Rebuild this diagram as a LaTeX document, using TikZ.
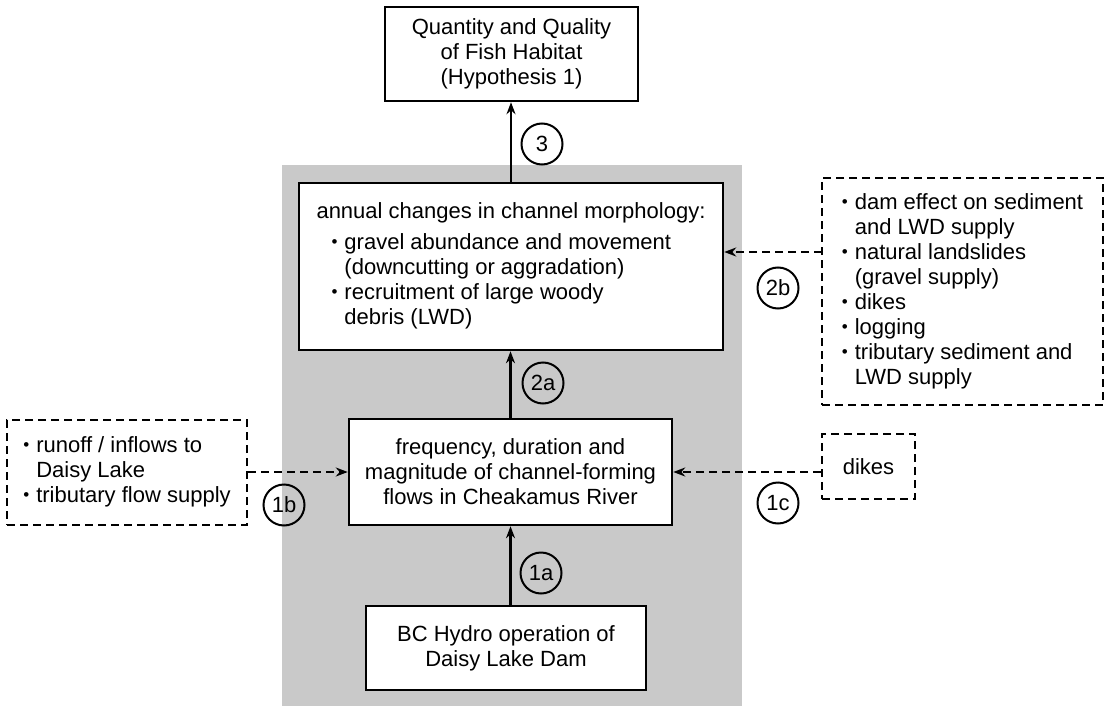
\documentclass[tikz,border=0pt]{standalone}
\usepackage{fontspec}
\setmainfont{Liberation Sans}
\usetikzlibrary{arrows.meta, positioning}
\newcommand{\blt}{\raisebox{0.15ex}{\fontsize{17}{17}\selectfont\textbullet}}

\begin{document}
\begin{tikzpicture}[x=1pt, y=-1pt, >={Stealth[length=12pt,width=9pt]},
  every node/.style={font=\fontsize{22}{25}\selectfont},
  box/.style={draw, line width=2.5pt, fill=white, align=center, inner sep=0pt},
  dbox/.style={draw, line width=2pt, dash pattern=on 8pt off 5pt, fill=white, inner sep=0pt},
  num/.style={draw, circle, line width=2pt, minimum size=41pt, inner sep=0pt},
  link/.style={->, line width=2.2pt},
  dlink/.style={->, line width=2pt, dash pattern=on 8pt off 5pt}]
  \useasboundingbox (0,0) rectangle (1105,706);
  % shaded zone
  \fill[black!21] (282,165) rectangle (742,706);
  % main chain
  \node[box, minimum width=253pt, minimum height=94pt] (habitat) at (511.5,54)
    {Quantity and Quality\\ of Fish Habitat\\ (Hypothesis 1)};
  \node[box, minimum width=424pt, minimum height=167pt] (morph) at (511,266.5)
    {\begin{tabular}{@{}l@{}}
      annual changes in channel morphology:\\[6pt]
      \hspace*{15pt}\begin{tabular}{@{}l@{\hspace{7pt}}l@{}}
        \blt & gravel abundance and movement\\
             & (downcutting or aggradation)\\
        \blt & recruitment of large woody\\
             & debris (LWD)
      \end{tabular}
    \end{tabular}};
  \node[box, minimum width=323pt, minimum height=106pt] (flows) at (510.5,472)
    {frequency, duration and\\ magnitude of channel-forming\\ flows in Cheakamus River};
  \node[box, minimum width=280pt, minimum height=84pt] (dam) at (506,648)
    {BC Hydro operation of\\ Daisy Lake Dam};
  % outside factors
  \node[dbox, minimum width=240pt, minimum height=105pt] (inflow) at (127,472.5)
    {\begin{tabular}{@{}l@{\hspace{7pt}}l@{}}
      \blt & runoff / inflows to\\
           & Daisy Lake\\
      \blt & tributary flow supply
    \end{tabular}};
  \node[dbox, minimum width=281pt, minimum height=227pt] (supply) at (962.5,291.5)
    {\begin{tabular}{@{}l@{\hspace{7pt}}l@{}}
      \blt & dam effect on sediment\\
           & and LWD supply\\
      \blt & natural landslides\\
           & (gravel supply)\\
      \blt & dikes\\
      \blt & logging\\
      \blt & tributary sediment and\\
           & LWD supply
    \end{tabular}};
  \node[dbox, minimum width=93pt, minimum height=65pt] (dikes) at (868.5,466.5) {dikes};
  \coordinate (supplyout) at (822,252);
  % arrows
  \draw[link] (morph.north) -- (morph.north |- habitat.south);
  \draw[link] (flows.north) -- (flows.north |- morph.south);
  \draw[link] (dam.north -| flows.south) -- (flows.south);
  \draw[dlink] (inflow.east |- flows.west) -- (flows.west);
  \draw[dlink] (dikes.west |- flows.east) -- (flows.east);
  \draw[dlink] (supplyout) -- (supplyout -| morph.east);
  % step labels
  \node[num] (n3) at (542,144) {3};
  \node[num] (n2a) at (543,383) {2a};
  \node[num] (n2b) at (778,288) {2b};
  \node[num] (n1a) at (541,573) {1a};
  \node[num] (n1b) at (284,505) {1b};
  \node[num] (n1c) at (778,503) {1c};
\end{tikzpicture}
\end{document}
